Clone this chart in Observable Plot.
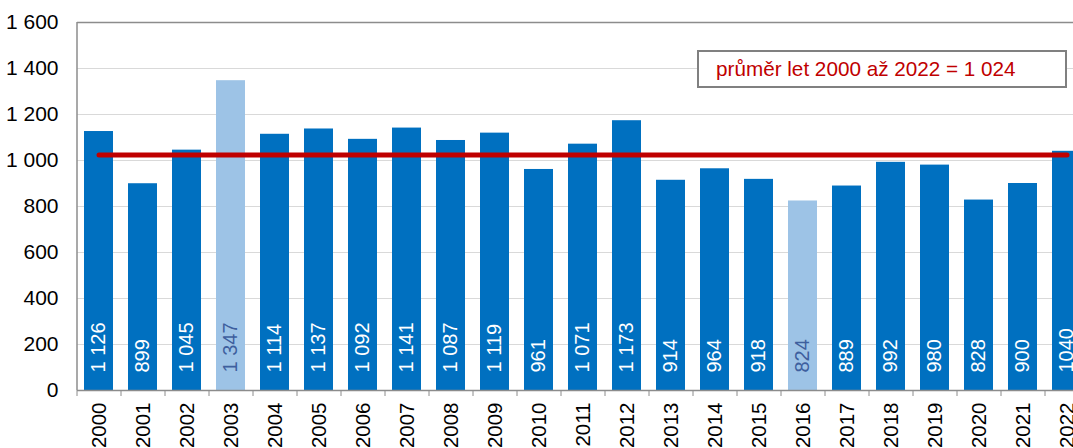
<!DOCTYPE html>
<html><head><meta charset="utf-8">
<script src="https://cdn.jsdelivr.net/npm/d3@7"></script>
<script src="https://cdn.jsdelivr.net/npm/@observablehq/plot@0.6"></script>
<style>
html,body{margin:0;padding:0;background:#fff;overflow:hidden}
#wrap{position:relative;width:1073px;height:448px}
#legend{position:absolute;left:697px;top:50px;width:370px;height:38px;box-sizing:border-box;border:2px solid #808080;background:#fff;color:#c00000;font:20.7px "Liberation Sans",Arial,sans-serif;display:flex;align-items:center;padding-left:17px;white-space:nowrap}
</style></head>
<body>
<div id="wrap"><div id="chart"></div><div id="legend"></div></div>
<script>
const years = ["2000","2001","2002","2003","2004","2005","2006","2007","2008","2009","2010","2011","2012","2013","2014","2015","2016","2017","2018","2019","2020","2021","2022"];
const values = [1126,899,1045,1347,1114,1137,1092,1141,1087,1119,961,1071,1173,914,964,918,824,889,992,980,828,900,1040];
const valueLabels = ["1 126","899","1 045","1 347","1 114","1 137","1 092","1 141","1 087","1 119","961","1 071","1 173","914","964","918","824","889","992","980","828","900","1040"];
const highlighted = ["2003","2016"];
const average = 1024;
const legendText = "průměr let 2000 až 2022 = 1 024";
const yTicks = [0,200,400,600,800,1000,1200,1400,1600];

const data = years.map((y,i)=>({year:y, value:values[i], label:valueLabels[i], light: highlighted.includes(y)}));
const fmt = d => d >= 1000 ? Math.floor(d/1000) + " " + String(d%1000).padStart(3,"0") : String(d);
const dark = "#0070c0", light = "#9dc3e6", axisGray = "#8c8c8c";

const chart = Plot.plot({
  width: 1073, height: 448,
  marginLeft: 77, marginRight: 0, marginTop: 22, marginBottom: 58,
  style: {fontFamily: '"Liberation Sans", Arial, sans-serif', fontSize: "20px", color: "#000", background: "#fff"},
  x: {type: "band", domain: years, range: [77, 1089], paddingInner: 0.34, paddingOuter: 0.17, align: 0.5, label: null},
  y: {domain: [0, 1600], label: null},
  marks: [
    Plot.gridY(yTicks.filter(t => t > 0 && t < 1600), {stroke: "#d9d9d9", strokeOpacity: 1}),
    Plot.barY(data, {x: "year", y: "value", fill: d => d.light ? light : dark}),
    Plot.text(data, {x: "year", y: 0, text: "label", rotate: -90, textAnchor: "start", dy: -18, fill: d => d.light ? "#3e5f9e" : "#fff", fontSize: 20}),
    Plot.ruleY([0], {stroke: axisGray, strokeWidth: 1.5}),
    Plot.ruleY([1600], {stroke: axisGray, strokeWidth: 1.5}),
    Plot.ruleX([years[0]], {y1: 0, y2: 1600, dx: -22, stroke: axisGray, strokeWidth: 1.5}),
    Plot.axisX({tickSize: 6, tickFormat: () => "", dx: -22, stroke: axisGray}),
    Plot.line([[years[0], average], [years[years.length-1], average]], {x: d => d[0], y: d => d[1], stroke: "#c00000", strokeWidth: 5, strokeLinecap: "round"}),
    Plot.axisY({ticks: yTicks, tickSize: 0, tickPadding: 19, tickFormat: fmt, fontSize: 21}),
    Plot.axisX({tickSize: 0, tickPadding: 12, tickRotate: -90, fontSize: 20.5})
  ]
});
document.getElementById("chart").appendChild(chart);
document.getElementById("legend").textContent = legendText;
</script>
</body></html>
